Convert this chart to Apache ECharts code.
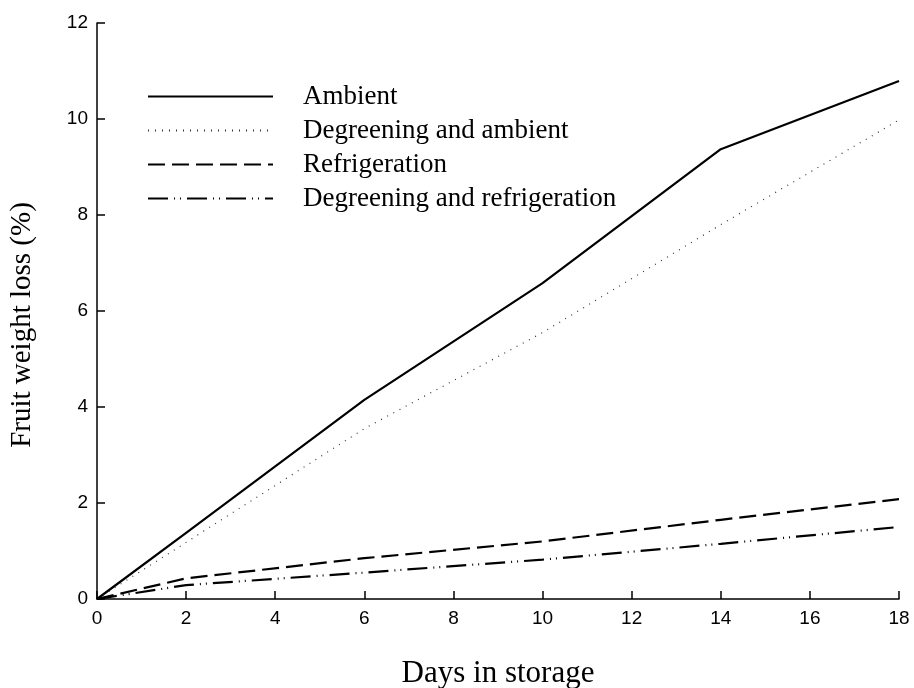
<!DOCTYPE html>
<html>
<head>
<meta charset="utf-8">
<script src="https://cdn.jsdelivr.net/npm/echarts@6/dist/echarts.min.js"></script>
<style>
  html, body { margin: 0; padding: 0; background: #fff; }
  #chart { width: 914px; height: 688px; }
</style>
</head>
<body>
<div id="chart"></div>
<script>
// Days after harvest at which fruit were weighed
const days = [0, 2, 6, 10, 14, 18];

// Cumulative fruit weight loss (%) per storage treatment
const ambient = [0, 1.38, 4.15, 6.58, 9.37, 10.79];
const degreeningAmbient = [0, 1.18, 3.55, 5.55, 7.8, 9.98];
const refrigeration = [0, 0.43, 0.85, 1.2, 1.65, 2.08];
const degreeningRefrigeration = [0, 0.29, 0.55, 0.82, 1.15, 1.5];

const treatments = ['Ambient', 'Degreening and ambient', 'Refrigeration', 'Degreening and refrigeration'];

const pairs = (vals) => days.map((d, i) => [d, vals[i]]);

const serif = '"Liberation Serif", "Times New Roman", serif';
const sans = '"Liberation Sans", Arial, sans-serif';

function makeSeries(name, vals, lineStyle) {
  return {
    name: name,
    type: 'line',
    data: pairs(vals),
    symbol: 'none',
    showSymbol: false,
    smooth: false,
    lineStyle: Object.assign({ color: '#000', width: 2 }, lineStyle),
    itemStyle: { color: '#000' },
    emphasis: { disabled: true }
  };
}

const chart = echarts.init(document.getElementById('chart'), null, { renderer: 'canvas' });

chart.setOption({
  animation: false,
  backgroundColor: '#fff',
  grid: { left: 97, right: 15, top: 23, bottom: 89, containLabel: false, outerBoundsMode: 'none' },
  legend: {
    left: 142,
    top: 78,
    orient: 'vertical',
    itemWidth: 125,
    itemHeight: 14,
    itemGap: 7,
    selectedMode: false,
    itemStyle: { opacity: 0 },
    textStyle: { fontFamily: serif, fontSize: 27, lineHeight: 27, color: '#000', padding: [0, 0, 0, 25] },
    data: treatments
  },
  xAxis: {
    type: 'value',
    min: 0,
    max: 18,
    interval: 2,
    name: 'Days in storage',
    nameLocation: 'middle',
    nameGap: 59,
    nameTextStyle: { fontFamily: serif, fontSize: 31, color: '#000' },
    axisLine: { show: true, lineStyle: { color: '#000', width: 1.5 } },
    axisTick: { show: true, inside: true, length: 8, lineStyle: { color: '#000', width: 1.5 } },
    axisLabel: { fontFamily: sans, fontSize: 19, color: '#000', margin: 10 },
    splitLine: { show: false }
  },
  yAxis: {
    type: 'value',
    min: 0,
    max: 12,
    interval: 2,
    name: 'Fruit weight loss (%)',
    nameLocation: 'middle',
    nameGap: 60,
    nameRotate: 90,
    nameTextStyle: { fontFamily: serif, fontSize: 29, color: '#000', padding: [0, 28, 0, 0] },
    axisLine: { show: true, lineStyle: { color: '#000', width: 1.5 } },
    axisTick: { show: true, inside: true, length: 8, lineStyle: { color: '#000', width: 1.5 } },
    axisLabel: { fontFamily: sans, fontSize: 19, color: '#000', margin: 9 },
    splitLine: { show: false }
  },
  series: [
    makeSeries(treatments[0], ambient, { type: 'solid', width: 2.2 }),
    makeSeries(treatments[1], degreeningAmbient, { type: [1, 6], width: 1.2, color: '#333' }),
    makeSeries(treatments[2], refrigeration, { type: [17, 7], width: 2.2 }),
    makeSeries(treatments[3], degreeningRefrigeration, { type: [20, 6, 1, 5, 1, 6], width: 2.2 })
  ]
});
</script>
</body>
</html>
